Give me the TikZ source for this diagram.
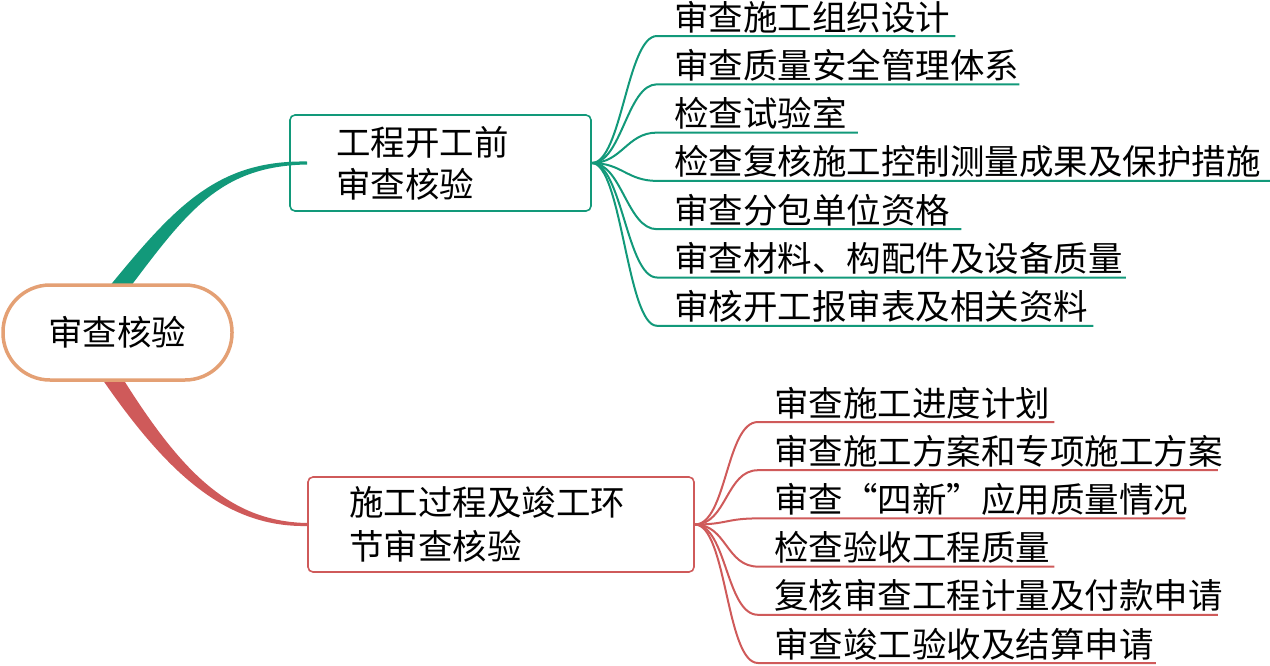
\documentclass[tikz,border=0pt]{standalone}
\usepackage{fontspec}
\setmainfont{Noto Sans CJK SC}
\usetikzlibrary{calc,backgrounds}
\definecolor{TEAL}{HTML}{12997A}
\definecolor{RED}{HTML}{CF5A5A}
\definecolor{PEACH}{HTML}{E4A074}

\begin{document}
\begin{tikzpicture}[x=1pt,y=-1pt,
 rootbox/.style={draw=PEACH,line width=3.5pt,fill=white,rounded corners=47pt,minimum width=229pt,minimum height=95pt,inner sep=0pt,font=\fontsize{34.5}{40}\selectfont},
 topicbox/.style={draw=#1,line width=1.6pt,rounded corners=5pt,align=left,inner ysep=0pt,font=\fontsize{34.5}{42}\selectfont},
 leaf/.style={anchor=base west,inner sep=0pt,font=\fontsize{34.5}{40}\selectfont},
 tline/.style={#1,line width=2pt}]
\useasboundingbox (0,0) rectangle (1270,665);
% main topic and the two sub topics
\node[rootbox] (root) at (117.5,332.5) {审查核验};
\node[topicbox=TEAL,text width=209pt,inner xsep=46pt,minimum height=96pt] (pre) at (440.5,163) {工程开工前\\审查核验};
\node[topicbox=RED,text width=304pt,inner xsep=41pt,minimum height=95pt,font=\fontsize{34.5}{44}\selectfont] (proc) at (501,524.5) {施工过程及竣工环\\节审查核验};
% thick tapered branches
\begin{scope}[on background layer]
\fill[TEAL] ($(root.north)+(-10.2,5.7)$) .. controls +(67.6,-82.7) and +(-90,-1.5) .. ($(pre.west)+(18,-1.5)$)
 -- ($(pre.west)+(18,1.5)$) .. controls +(-90,1.5) and +(64.4,-85.3) .. ($(root.north)+(3.2,16.3)$) -- cycle;
\fill[RED] ($(root.south)+(-2,-14.9)$) .. controls +(62.9,102.2) and +(-80,-1.5) .. ($(proc.west)+(0,-1.5)$)
 -- ($(proc.west)+(0,1.5)$) .. controls +(-80,1.5) and +(67.9,99) .. ($(root.south)+(-17,-5.1)$) -- cycle;
\end{scope}
% leaves before the works start
\foreach \i/\yu/\ext/\txt in {1/36/5/审查施工组织设计,2/84.3/0/审查质量安全管理体系,3/132.6/11/检查试验室,
 4/180.9/9/检查复核施工控制测量成果及保护措施,5/229.2/11/审查分包单位资格,6/277.5/3/审查材料、构配件及设备质量,
 7/325.8/5/审核开工报审表及相关资料}{
\node[leaf] (a\i) at (674,\yu-6) {\txt};
\draw[tline=TEAL] (pre.east) .. controls +(30,0) and +(-30,0) .. ($(a\i.base west)+(-17,6)$) -- ($(a\i.base east)+(\ext,6)$);
}
% leaves during the works and at completion
\foreach \i/\yu/\ext/\txt in {1/422/4/审查施工进度计划,2/470.2/-5/审查施工方案和专项施工方案,3/518.4/-3/审查“四新”应用质量情况,
 4/566.6/4/检查验收工程质量,5/614.8/-5/复核审查工程计量及付款申请,6/663/2/审查竣工验收及结算申请}{
\node[leaf] (b\i) at (774,\yu-6) {\txt};
\draw[tline=RED] (proc.east) .. controls +(32,0) and +(-32,0) .. ($(b\i.base west)+(-16,6)$) -- ($(b\i.base east)+(\ext,6)$);
}
\end{tikzpicture}
\end{document}
